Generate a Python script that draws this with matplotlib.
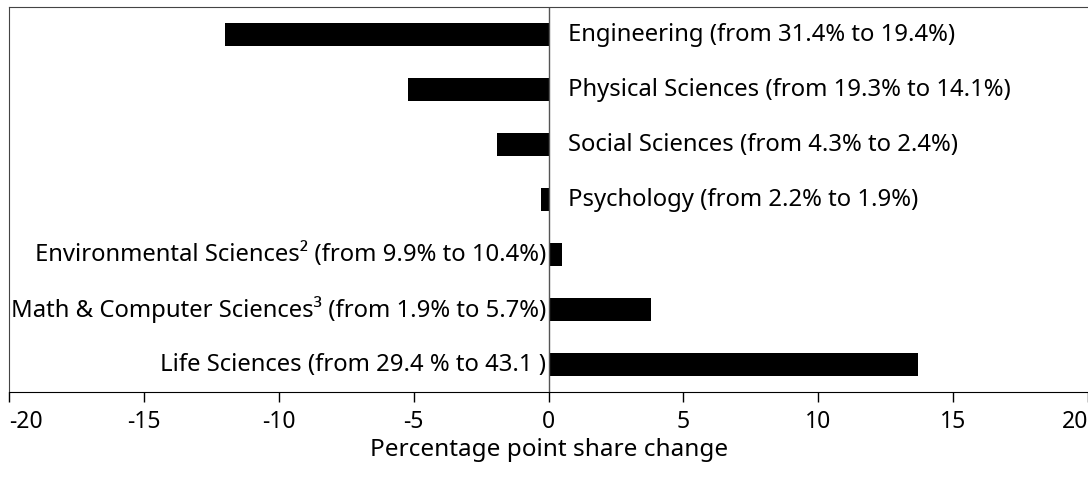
import matplotlib
matplotlib.use("Agg")
import matplotlib.pyplot as plt

plt.rcParams["font.family"] = ["Noto Sans", "DejaVu Sans"]

fields = [
    "Engineering (from 31.4% to 19.4%)",
    "Physical Sciences (from 19.3% to 14.1%)",
    "Social Sciences (from 4.3% to 2.4%)",
    "Psychology (from 2.2% to 1.9%)",
    "Environmental Sciences\u00b2 (from 9.9% to 10.4%)",
    "Math & Computer Sciences\u00b3 (from 1.9% to 5.7%)",
    "Life Sciences (from 29.4 % to 43.1 )",
]
changes = [-12.0, -5.2, -1.9, -0.3, 0.5, 3.8, 13.7]
ticks = [-20, -15, -10, -5, 0, 5, 10, 15, 20]

fig = plt.figure(figsize=(10.88, 4.8), dpi=100)
ax = fig.add_axes([0.0085, 0.183, 0.9915, 0.802])

ys = list(range(len(fields)))[::-1]
ax.barh(ys, changes, height=0.42, color="black")

# labels sit on the opposite side of the zero line from the bar
for y, v, lab in zip(ys, changes, fields):
    if v < 0:
        ax.text(0.7, y, lab, ha="left", va="center", fontsize=17.2)
    else:
        ax.text(-0.08, y, lab, ha="right", va="center", fontsize=17.2)

ax.set_xlim(-20, 20)
ax.set_ylim(-0.5, len(fields) - 0.5)
ax.set_yticks([])
ax.set_xticks(ticks)
ax.set_xticklabels([str(t) for t in ticks], fontsize=16.5)
tl = ax.get_xticklabels()
tl[0].set_ha("left")
tl[-1].set_ha("right")
ax.tick_params(axis="x", direction="out", length=7, width=1, pad=6)
ax.axvline(0, color="#555555", lw=1)
for s in ax.spines.values():
    s.set_color("#444444")
ax.spines["right"].set_visible(False)
ax.spines["bottom"].set_color("black")
ax.set_xlabel("Percentage point share change", fontsize=17.5, labelpad=3)

fig.savefig("out.png", dpi=100)
